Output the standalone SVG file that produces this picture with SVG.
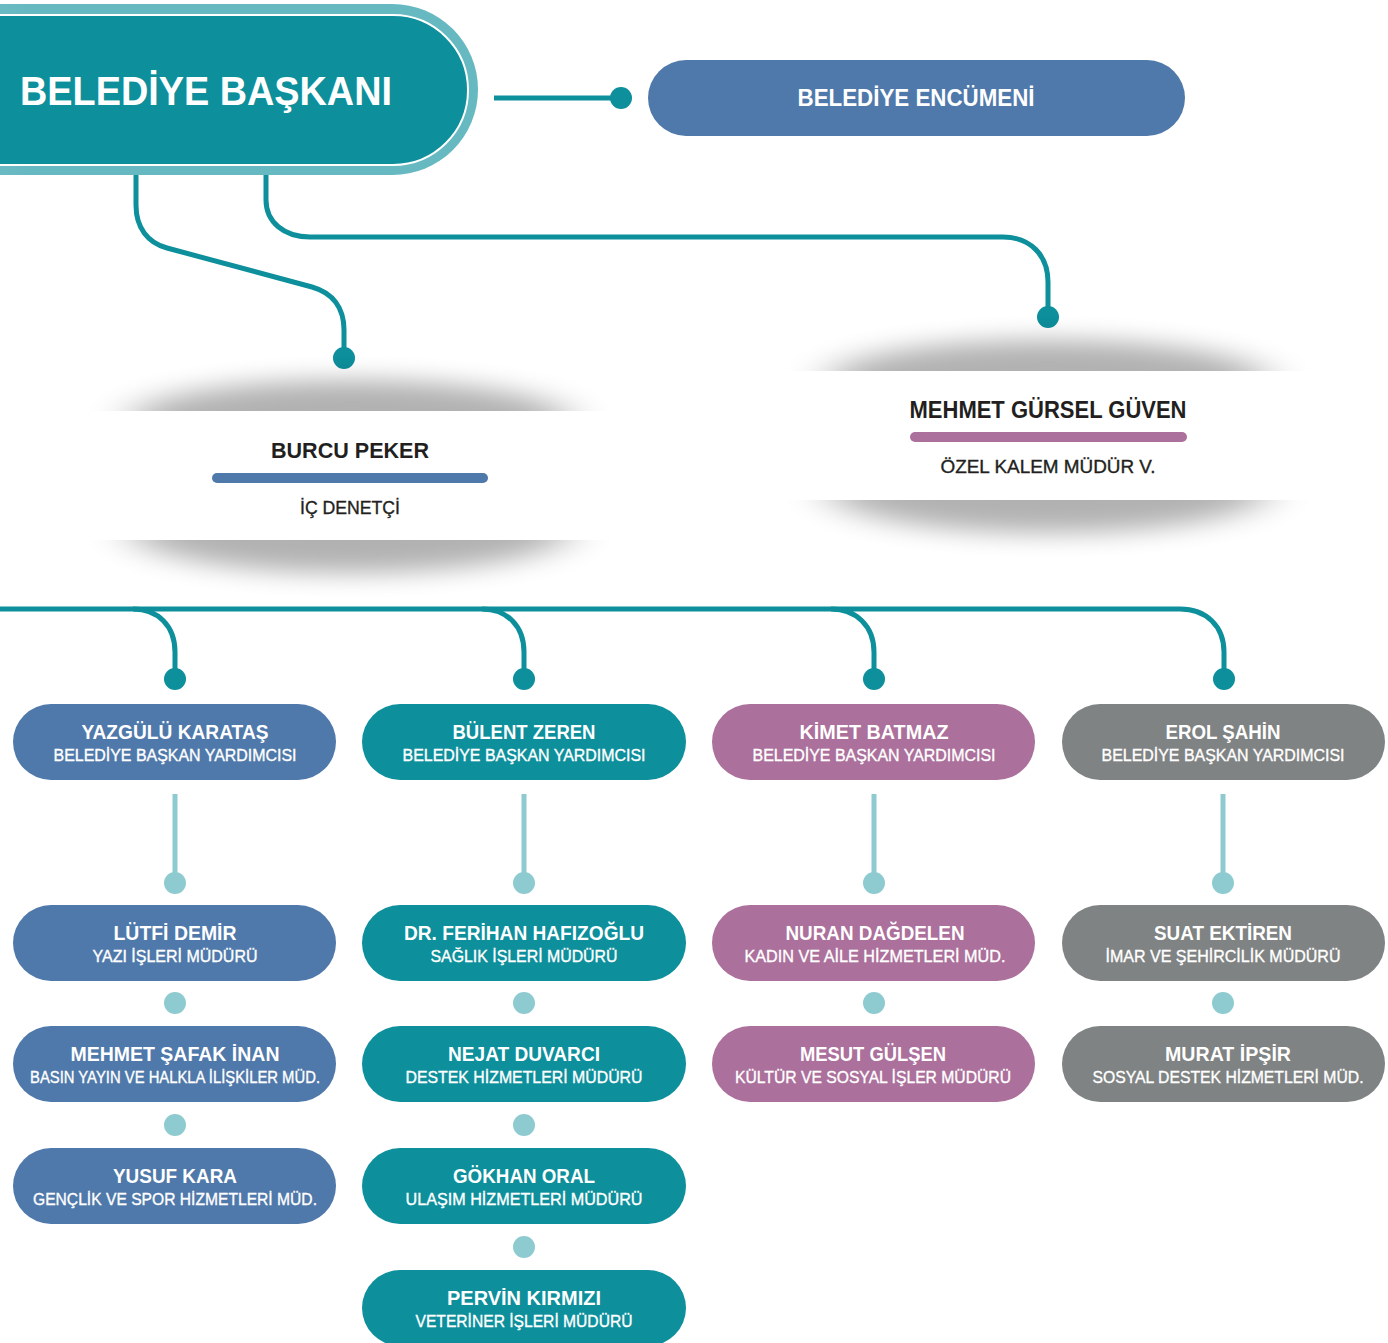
<svg xmlns="http://www.w3.org/2000/svg" width="1388" height="1343" viewBox="0 0 1388 1343">
<style>
.t{font-family:"Liberation Sans","Open Sans",Arial,sans-serif;text-anchor:middle;}
.nm{font-size:20px;font-weight:bold;fill:#ffffff;}
.sb{font-size:17px;font-weight:normal;fill:#ffffff;stroke:#ffffff;stroke-width:0.35;}
.dk{fill:#231f20;}
.dks{stroke:#231f20;stroke-width:0.35;}
.con{fill:none;stroke:#0d8f9c;stroke-width:5;}
.con2{fill:none;stroke:#8ecbd1;stroke-width:5;}
.d1{fill:#0d8f9c;}
.d2{fill:#8ecbd1;}
.blue{fill:#4f79aa;}
.teal{fill:#0d8f9c;}
.purp{fill:#ab709b;}
.gray{fill:#7f8383;}
.sh{fill:#000;opacity:0.3;}
</style>
<defs>
<filter id="blur" x="-30%" y="-200%" width="160%" height="500%"><feGaussianBlur stdDeviation="24 12"/></filter>
<linearGradient id="outerG" x1="0" y1="0" x2="1" y2="0">
<stop offset="0" stop-color="#7cc3ca"/><stop offset="0.25" stop-color="#66b8c1"/><stop offset="1" stop-color="#66b8c1"/>
</linearGradient>
<linearGradient id="innerG" x1="0" y1="0" x2="1" y2="0">
<stop offset="0" stop-color="#2aa1ab"/><stop offset="0.12" stop-color="#0d8f9c"/><stop offset="1" stop-color="#0d8f9c"/>
</linearGradient>
<clipPath id="cBt"><rect x="60" y="330" width="580" height="81"/></clipPath>
<clipPath id="cBb"><rect x="60" y="540" width="580" height="80"/></clipPath>
<clipPath id="cMt"><rect x="760" y="290" width="580" height="81"/></clipPath>
<clipPath id="cMb"><rect x="760" y="500" width="580" height="80"/></clipPath>
</defs>

<g id="connectors">
<path class="con" d="M136 170 V205 C136 228 148 243 167 248 L312 287 C333 293 344 308 344 330 V357"/>
<path class="con" d="M266 170 V200 C266 222 284 237 310 237 H1003 C1030 237 1048 255 1048 282 V316"/>
<path class="con" d="M494 98 H621"/>
<circle class="d1" cx="621" cy="98" r="11"/>
<circle class="d1" cx="344" cy="358" r="11"/>
<circle class="d1" cx="1048" cy="317" r="11"/>
<path class="con" d="M0 609 H1180 C1206 609 1224 626 1224 652 V679"/>
<path class="con" d="M133 609 C158 609 175 626 175 652 V679"/>
<path class="con" d="M482 609 C507 609 524 626 524 652 V679"/>
<path class="con" d="M831 609 C856 609 874 626 874 652 V679"/>
<circle class="d1" cx="175" cy="679" r="11"/>
<circle class="d1" cx="524" cy="679" r="11"/>
<circle class="d1" cx="874" cy="679" r="11"/>
<circle class="d1" cx="1224" cy="679" r="11"/>
<path class="con2" d="M175 794 V883"/>
<path class="con2" d="M524 794 V883"/>
<path class="con2" d="M874 794 V883"/>
<path class="con2" d="M1223 794 V883"/>
<circle class="d2" cx="175" cy="883" r="11"/>
<circle class="d2" cx="524" cy="883" r="11"/>
<circle class="d2" cx="874" cy="883" r="11"/>
<circle class="d2" cx="1223" cy="883" r="11"/>
<circle class="d2" cx="175" cy="1003" r="11"/>
<circle class="d2" cx="175" cy="1125" r="11"/>
<circle class="d2" cx="524" cy="1003" r="11"/>
<circle class="d2" cx="524" cy="1125" r="11"/>
<circle class="d2" cx="524" cy="1247" r="11"/>
<circle class="d2" cx="874" cy="1003" r="11"/>
<circle class="d2" cx="1223" cy="1003" r="11"/>
</g>

<g id="baskan">
<rect x="-120" y="4" width="598" height="171" rx="85.5" fill="url(#outerG)"/>
<rect x="-120" y="15" width="588" height="150" rx="75" fill="url(#innerG)" stroke="#ffffff" stroke-width="2"/>
<text class="t" x="206" y="105" style="font-size:40px;font-weight:bold;fill:#fff" textLength="372" lengthAdjust="spacingAndGlyphs">BELEDİYE BAŞKANI</text>
</g>

<g id="encumen">
<rect class="blue" x="648" y="60" width="537" height="76" rx="38"/>
<text class="t" x="916" y="106" style="font-size:24px;font-weight:bold;fill:#fff" textLength="237" lengthAdjust="spacingAndGlyphs">BELEDİYE ENCÜMENİ</text>
</g>

<g id="burcu">
<g clip-path="url(#cBt)"><ellipse class="sh" cx="350" cy="420" rx="220" ry="40" filter="url(#blur)"/></g>
<g clip-path="url(#cBb)"><ellipse class="sh" cx="350" cy="531" rx="220" ry="42" filter="url(#blur)"/></g>
<text class="t dk" x="350" y="458" style="font-size:22px;font-weight:bold" textLength="158" lengthAdjust="spacingAndGlyphs">BURCU PEKER</text>
<rect class="blue" x="212" y="473" width="276" height="10" rx="5"/>
<text class="t dk dks" x="350" y="514" style="font-size:18px" textLength="100" lengthAdjust="spacingAndGlyphs">İÇ DENETÇİ</text>
</g>

<g id="mehmetg">
<g clip-path="url(#cMt)"><ellipse class="sh" cx="1048" cy="380" rx="220" ry="40" filter="url(#blur)"/></g>
<g clip-path="url(#cMb)"><ellipse class="sh" cx="1048" cy="491" rx="220" ry="42" filter="url(#blur)"/></g>
<text class="t dk" x="1048" y="418" style="font-size:23px;font-weight:bold" textLength="277" lengthAdjust="spacingAndGlyphs">MEHMET GÜRSEL GÜVEN</text>
<rect class="purp" x="910" y="432" width="277" height="10" rx="5"/>
<text class="t dk dks" x="1048" y="473" style="font-size:18px" textLength="215" lengthAdjust="spacingAndGlyphs">ÖZEL KALEM MÜDÜR V.</text>
</g>

<g id="yazgulu">
<rect class="blue" x="13" y="704" width="323" height="76" rx="38"/>
<text class="t nm" x="175" y="739" textLength="187" lengthAdjust="spacingAndGlyphs">YAZGÜLÜ KARATAŞ</text>
<text class="t sb" x="175" y="761" textLength="243" lengthAdjust="spacingAndGlyphs">BELEDİYE BAŞKAN YARDIMCISI</text>
</g>
<g id="bulent">
<rect class="teal" x="362" y="704" width="324" height="76" rx="38"/>
<text class="t nm" x="524" y="739" textLength="143" lengthAdjust="spacingAndGlyphs">BÜLENT ZEREN</text>
<text class="t sb" x="524" y="761" textLength="243" lengthAdjust="spacingAndGlyphs">BELEDİYE BAŞKAN YARDIMCISI</text>
</g>
<g id="kimet">
<rect class="purp" x="712" y="704" width="323" height="76" rx="38"/>
<text class="t nm" x="874" y="739" textLength="149" lengthAdjust="spacingAndGlyphs">KİMET BATMAZ</text>
<text class="t sb" x="874" y="761" textLength="243" lengthAdjust="spacingAndGlyphs">BELEDİYE BAŞKAN YARDIMCISI</text>
</g>
<g id="erol">
<rect class="gray" x="1062" y="704" width="323" height="76" rx="38"/>
<text class="t nm" x="1223" y="739" textLength="115" lengthAdjust="spacingAndGlyphs">EROL ŞAHİN</text>
<text class="t sb" x="1223" y="761" textLength="243" lengthAdjust="spacingAndGlyphs">BELEDİYE BAŞKAN YARDIMCISI</text>
</g>

<g id="lutfi">
<rect class="blue" x="13" y="905" width="323" height="76" rx="38"/>
<text class="t nm" x="175" y="940" textLength="123" lengthAdjust="spacingAndGlyphs">LÜTFİ DEMİR</text>
<text class="t sb" x="175" y="962" textLength="165" lengthAdjust="spacingAndGlyphs">YAZI İŞLERİ MÜDÜRÜ</text>
</g>
<g id="safak">
<rect class="blue" x="13" y="1026" width="323" height="76" rx="38"/>
<text class="t nm" x="175" y="1061" textLength="209" lengthAdjust="spacingAndGlyphs">MEHMET ŞAFAK İNAN</text>
<text class="t sb" x="175" y="1083" textLength="290" lengthAdjust="spacingAndGlyphs">BASIN YAYIN VE HALKLA İLİŞKİLER MÜD.</text>
</g>
<g id="yusuf">
<rect class="blue" x="13" y="1148" width="323" height="76" rx="38"/>
<text class="t nm" x="175" y="1183" textLength="124" lengthAdjust="spacingAndGlyphs">YUSUF KARA</text>
<text class="t sb" x="175" y="1205" textLength="284" lengthAdjust="spacingAndGlyphs">GENÇLİK VE SPOR HİZMETLERİ MÜD.</text>
</g>

<g id="ferihan">
<rect class="teal" x="362" y="905" width="324" height="76" rx="38"/>
<text class="t nm" x="524" y="940" textLength="240" lengthAdjust="spacingAndGlyphs">DR. FERİHAN HAFIZOĞLU</text>
<text class="t sb" x="524" y="962" textLength="187" lengthAdjust="spacingAndGlyphs">SAĞLIK İŞLERİ MÜDÜRÜ</text>
</g>
<g id="nejat">
<rect class="teal" x="362" y="1026" width="324" height="76" rx="38"/>
<text class="t nm" x="524" y="1061" textLength="152" lengthAdjust="spacingAndGlyphs">NEJAT DUVARCI</text>
<text class="t sb" x="524" y="1083" textLength="237" lengthAdjust="spacingAndGlyphs">DESTEK HİZMETLERİ MÜDÜRÜ</text>
</g>
<g id="gokhan">
<rect class="teal" x="362" y="1148" width="324" height="76" rx="38"/>
<text class="t nm" x="524" y="1183" textLength="142" lengthAdjust="spacingAndGlyphs">GÖKHAN ORAL</text>
<text class="t sb" x="524" y="1205" textLength="237" lengthAdjust="spacingAndGlyphs">ULAŞIM HİZMETLERİ MÜDÜRÜ</text>
</g>
<g id="pervin">
<rect class="teal" x="362" y="1270" width="324" height="76" rx="38"/>
<text class="t nm" x="524" y="1305" textLength="154" lengthAdjust="spacingAndGlyphs">PERVİN KIRMIZI</text>
<text class="t sb" x="524" y="1327" textLength="217" lengthAdjust="spacingAndGlyphs">VETERİNER İŞLERİ MÜDÜRÜ</text>
</g>

<g id="nuran">
<rect class="purp" x="712" y="905" width="323" height="76" rx="38"/>
<text class="t nm" x="875" y="940" textLength="179" lengthAdjust="spacingAndGlyphs">NURAN DAĞDELEN</text>
<text class="t sb" x="875" y="962" textLength="261" lengthAdjust="spacingAndGlyphs">KADIN VE AİLE HİZMETLERİ MÜD.</text>
</g>
<g id="mesut">
<rect class="purp" x="712" y="1026" width="323" height="76" rx="38"/>
<text class="t nm" x="873" y="1061" textLength="146" lengthAdjust="spacingAndGlyphs">MESUT GÜLŞEN</text>
<text class="t sb" x="873" y="1083" textLength="276" lengthAdjust="spacingAndGlyphs">KÜLTÜR VE SOSYAL İŞLER MÜDÜRÜ</text>
</g>

<g id="suat">
<rect class="gray" x="1062" y="905" width="323" height="76" rx="38"/>
<text class="t nm" x="1223" y="940" textLength="138" lengthAdjust="spacingAndGlyphs">SUAT EKTİREN</text>
<text class="t sb" x="1223" y="962" textLength="235" lengthAdjust="spacingAndGlyphs">İMAR VE ŞEHİRCİLİK MÜDÜRÜ</text>
</g>
<g id="murat">
<rect class="gray" x="1062" y="1026" width="323" height="76" rx="38"/>
<text class="t nm" x="1228" y="1061" textLength="126" lengthAdjust="spacingAndGlyphs">MURAT İPŞİR</text>
<text class="t sb" x="1228" y="1083" textLength="271" lengthAdjust="spacingAndGlyphs">SOSYAL DESTEK HİZMETLERİ MÜD.</text>
</g>
</svg>
